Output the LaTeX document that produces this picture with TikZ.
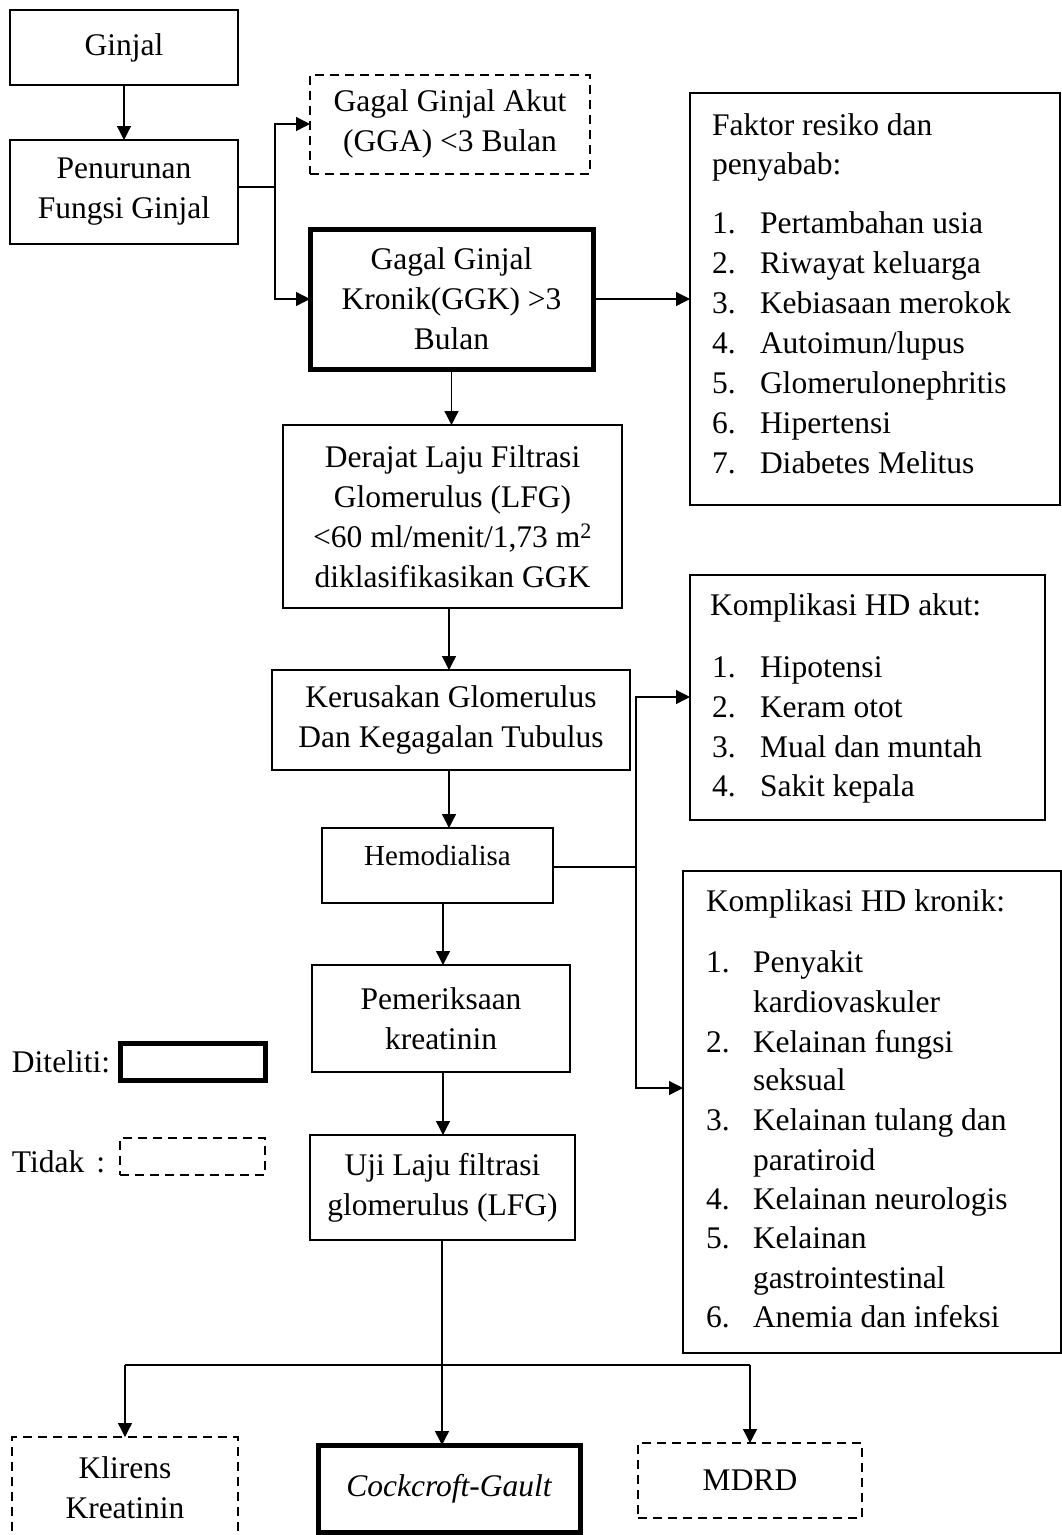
\documentclass[tikz,border=0pt]{standalone}
\usepackage{fontspec}
\setmainfont{Liberation Serif}
\usetikzlibrary{arrows.meta}
\begin{document}
\begin{tikzpicture}[x=1pt,y=-1pt,
  every node/.style={font=\fontsize{31.5}{40}\selectfont, inner sep=0pt, outer sep=0pt},
  bx/.style={draw, line width=2pt, align=center},
  dbx/.style={draw, line width=2pt, dash pattern=on 9pt off 6pt, align=center},
  tbx/.style={draw, line width=5pt, align=center},
  arr/.style={line width=1.3pt, -{Triangle[length=14pt,width=14pt]}},
  ln/.style={line width=1.3pt},
  txt/.style={anchor=base west}]
\useasboundingbox (0,0) rectangle (1062,1535);

% main column
\node[bx, minimum width=228pt, minimum height=75pt] (ginjal) at (124,47.5) {Ginjal};
\node[bx, minimum width=228pt, minimum height=104pt] (turun) at (124,192) {Penurunan\\Fungsi Ginjal};
\node[dbx, minimum width=280pt, minimum height=99pt] (gga) at (450,124) {Gagal Ginjal Akut\\(GGA) <3 Bulan};
\node[tbx, minimum width=283pt, minimum height=140pt] (ggk) at (451.5,299) {Gagal Ginjal\\Kronik(GGK) >3\\Bulan};
\node[bx, minimum width=339pt, minimum height=183pt] (lfg) at (452.5,516.5) {Derajat Laju Filtrasi\\Glomerulus (LFG)\\<60 ml/menit/1,73 m\textsuperscript{2}\\diklasifikasikan GGK};
\node[bx, minimum width=358pt, minimum height=100pt] (rusak) at (451,720) {Kerusakan Glomerulus\\Dan Kegagalan Tubulus};
\node[bx, minimum width=231pt, minimum height=75pt] (hd) at (437.5,865.5) {};
\node[anchor=base, font=\fontsize{29}{36}\selectfont] (hdt) at (437.5,865) {Hemodialisa};
\node[bx, minimum width=258pt, minimum height=107pt] (periksa) at (441,1018.5) {Pemeriksaan\\kreatinin};
\node[bx, minimum width=265pt, minimum height=105pt] (uji) at (442.5,1187.5) {Uji Laju filtrasi\\glomerulus (LFG)};

% bottom row
\node[dbx, minimum width=226pt, minimum height=123pt] (klirens) at (125,1498.5) {};
\node[align=center] (klt) at (125,1488) {Klirens\\Kreatinin};
\node[tbx, minimum width=262pt, minimum height=87pt] (cg) at (449,1488.5) {\itshape Cockcroft-Gault};
\node[dbx, minimum width=224pt, minimum height=75pt] (mdrd) at (750,1480.5) {MDRD};

% legend
\node[txt] (dit) at (12,1072) {Diteliti:};
\node[tbx, minimum width=145pt, minimum height=37pt] (ditbox) at (192.5,1061.5) {};
\node[txt] (tid) at (12,1172) {Tidak\hspace{12pt}:};
\node[dbx, minimum width=145pt, minimum height=37pt] (tidbox) at (192.5,1156.5) {};

% Faktor box
\node[bx, minimum width=370pt, minimum height=412pt] (faktor) at (875,299) {};
\node[txt] (fa) at (712,135) {Faktor resiko dan};
\node[txt] (fb) at (712,174) {penyabab:};
\node[txt] (fn1) at (712,233) {1.}; \node[txt] (ft1) at (760,233) {Pertambahan usia};
\node[txt] (fn2) at (712,273) {2.}; \node[txt] (ft2) at (760,273) {Riwayat keluarga};
\node[txt] (fn3) at (712,313) {3.}; \node[txt] (ft3) at (760,313) {Kebiasaan merokok};
\node[txt] (fn4) at (712,353) {4.}; \node[txt] (ft4) at (760,353) {Autoimun/lupus};
\node[txt] (fn5) at (712,393) {5.}; \node[txt] (ft5) at (760,393) {Glomerulonephritis};
\node[txt] (fn6) at (712,433) {6.}; \node[txt] (ft6) at (760,433) {Hipertensi};
\node[txt] (fn7) at (712,473) {7.}; \node[txt] (ft7) at (760,473) {Diabetes Melitus};

% Komplikasi akut
\node[bx, minimum width=355pt, minimum height=245pt] (akut) at (867.5,697.5) {};
\node[txt] (aa) at (710,615) {Komplikasi HD akut:};
\node[txt] (an1) at (712,677) {1.}; \node[txt] (at1) at (760,677) {Hipotensi};
\node[txt] (an2) at (712,717) {2.}; \node[txt] (at2) at (760,717) {Keram otot};
\node[txt] (an3) at (712,757) {3.}; \node[txt] (at3) at (760,757) {Mual dan muntah};
\node[txt] (an4) at (712,796) {4.}; \node[txt] (at4) at (760,796) {Sakit kepala};

% Komplikasi kronik
\node[bx, minimum width=378pt, minimum height=482pt] (kronik) at (872,1112) {};
\node[txt] (ka) at (706,911) {Komplikasi HD kronik:};
\node[txt] (kn1) at (706,972) {1.}; \node[txt] (kt1) at (753,972) {Penyakit};
\node[txt] (kt1b) at (753,1012) {kardiovaskuler};
\node[txt] (kn2) at (706,1052) {2.}; \node[txt] (kt2) at (753,1052) {Kelainan fungsi};
\node[txt] (kt2b) at (753,1090) {seksual};
\node[txt] (kn3) at (706,1130) {3.}; \node[txt] (kt3) at (753,1130) {Kelainan tulang dan};
\node[txt] (kt3b) at (753,1170) {paratiroid};
\node[txt] (kn4) at (706,1209) {4.}; \node[txt] (kt4) at (753,1209) {Kelainan neurologis};
\node[txt] (kn5) at (706,1248) {5.}; \node[txt] (kt5) at (753,1248) {Kelainan};
\node[txt] (kt5b) at (753,1288) {gastrointestinal};
\node[txt] (kn6) at (706,1327) {6.}; \node[txt] (kt6) at (753,1327) {Anemia dan infeksi};

% connectors
\coordinate (j1) at (275,187);
\coordinate (j2) at (636,867);
\coordinate (j3) at (442,1365);
\coordinate (akin) at (690,697);
\coordinate (krin) at (683,1088);

\draw[arr] (ginjal) -- (turun);
\draw[ln] (turun.east |- j1) -- (j1);
\draw[arr] (j1) |- (gga.west);
\draw[arr] (j1) |- (ggk.west);
\draw[arr] (ggk.east) -- (faktor.west |- ggk.east);
\draw[arr] (ggk.south) -- (ggk.south |- lfg.north);
\draw[arr] (lfg.south -| 449,0) -- (rusak.north -| 449,0);
\draw[arr] (rusak.south -| 449,0) -- (hd.north -| 449,0);
\draw[ln] (hd.east |- j2) -- (j2);
\draw[arr] (j2) |- (akin);
\draw[arr] (j2) |- (krin);
\draw[arr] (hd.south -| 443,0) -- (periksa.north -| 443,0);
\draw[arr] (periksa.south -| 443,0) -- (uji.north -| 443,0);
\draw[ln] (uji.south -| j3) -- (j3);
\draw[ln] (klirens.north |- j3) -- (mdrd.north |- j3);
\draw[arr] (klirens.north |- j3) -- (klirens.north);
\draw[arr] (j3) -- (cg.north -| j3);
\draw[arr] (mdrd.north |- j3) -- (mdrd.north);
\end{tikzpicture}
\end{document}
